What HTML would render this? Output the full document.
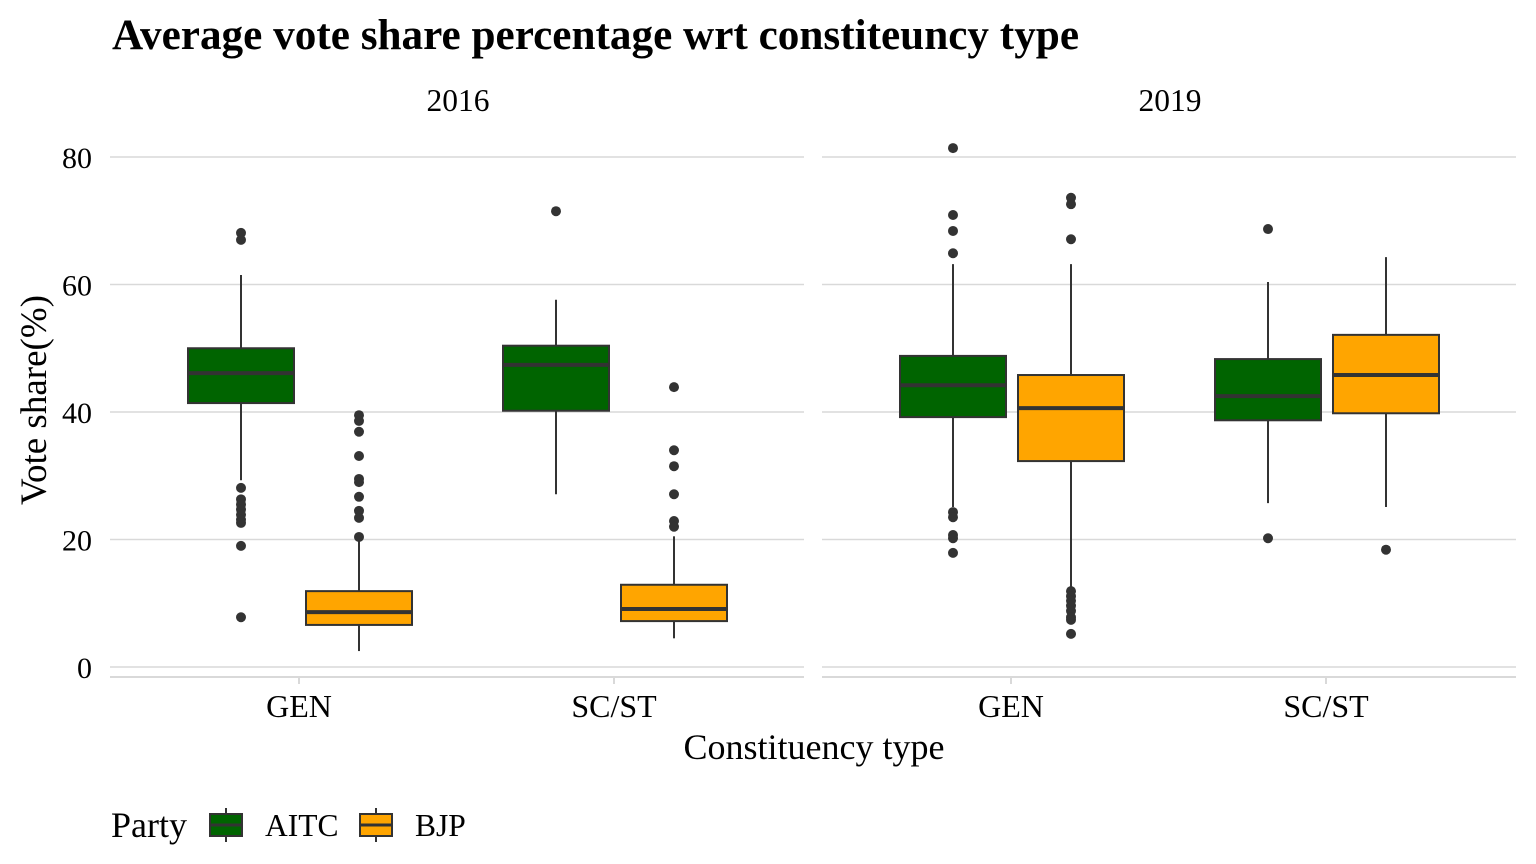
<!DOCTYPE html>
<html><head><meta charset="utf-8"><style>
html,body{margin:0;padding:0;background:#fff;}
svg{display:block;font-family:"Liberation Serif",serif;}
</style></head><body>
<svg id="chart" width="1536" height="864">
<text x="112" y="49" font-size="43" font-weight="bold" fill="#000" textLength="967" lengthAdjust="spacingAndGlyphs">Average vote share percentage wrt constiteuncy type</text>
<text x="458" y="111" font-size="31.5" text-anchor="middle">2016</text>
<text x="1170" y="111" font-size="31.5" text-anchor="middle">2019</text>
<text transform="translate(46,400) rotate(-90)" font-size="37" text-anchor="middle">Vote share(%)</text>
<text x="814" y="759" font-size="36" text-anchor="middle">Constituency type</text>
<g id="plot"></g>
<g>
<text x="111" y="837" font-size="36">Party</text>
<line x1="226" y1="808" x2="226" y2="842" stroke="#333" stroke-width="2"/>
<rect x="210" y="814" width="32" height="22" fill="#006400" stroke="#333" stroke-width="2"/>
<line x1="210" y1="825" x2="242" y2="825" stroke="#333" stroke-width="3"/>
<text x="265" y="836" font-size="31.5">AITC</text>
<line x1="376" y1="808" x2="376" y2="842" stroke="#333" stroke-width="2"/>
<rect x="360" y="814" width="32" height="22" fill="#FFA500" stroke="#333" stroke-width="2"/>
<line x1="360" y1="825" x2="392" y2="825" stroke="#333" stroke-width="3"/>
<text x="415" y="836" font-size="31.5">BJP</text>
</g>
</svg>
<script>
const years = ["2016","2019"];
const categories = ["GEN","SC/ST"];
const parties = ["AITC","BJP"];
const yTicks = [0,20,40,60,80];
// [lowerWhisker, Q1, median, Q3, upperWhisker] per year/category/party
const stats2016GenAitc = [29.3,41.4,46.1,50.0,61.5];
const stats2016GenBjp = [2.5,6.6,8.6,11.9,20.4];
const stats2016ScAitc = [27.1,40.2,47.4,50.4,57.6];
const stats2016ScBjp = [4.5,7.2,9.1,12.9,20.5];
const stats2019GenAitc = [25.1,39.2,44.2,48.8,63.2];
const stats2019GenBjp = [12.4,32.3,40.6,45.8,63.2];
const stats2019ScAitc = [25.7,38.7,42.5,48.3,60.4];
const stats2019ScBjp = [25.1,39.8,45.8,52.1,64.3];
const out2016GenAitc = [68.1,67.0,28.1,26.3,25.5,24.7,23.9,23.1,22.6,19.0,7.8];
const out2016GenBjp = [39.5,38.6,36.9,33.1,29.5,29.0,26.7,24.5,23.4,20.4];
const out2016ScAitc = [71.5];
const out2016ScBjp = [43.9,34.0,31.5,27.1,22.9,22.0];
const out2019GenAitc = [81.4,70.9,68.4,64.9,24.3,23.5,20.7,20.2,17.9];
const out2019GenBjp = [73.6,72.6,67.1,11.9,11.1,10.4,9.6,8.8,7.8,7.4,5.2];
const out2019ScAitc = [68.7,20.2];
const out2019ScBjp = [18.4];

const statsAll = [[[stats2016GenAitc,stats2016GenBjp],[stats2016ScAitc,stats2016ScBjp]],[[stats2019GenAitc,stats2019GenBjp],[stats2019ScAitc,stats2019ScBjp]]];
const outAll = [[[out2016GenAitc,out2016GenBjp],[out2016ScAitc,out2016ScBjp]],[[out2019GenAitc,out2019GenBjp],[out2019ScAitc,out2019ScBjp]]];
const colors = ["#006400","#FFA500"];
const panelX = [110,822], panelW = 694;
const y = v => 667 - v*6.375;
const xCat = (p,c) => panelX[p] + 189 + c*315;
const NS = "http://www.w3.org/2000/svg";
const g = document.getElementById("plot");
function mk(tag, attrs){const e=document.createElementNS(NS,tag);for(const k in attrs)e.setAttribute(k,attrs[k]);g.appendChild(e);return e;}
yTicks.forEach(t=>{
  const lab=mk("text",{x:92,y:y(t)+11,"font-size":30,"text-anchor":"end",fill:"#000"});
  lab.textContent=t;
  
  
});
for(let p=0;p<2;p++){
  yTicks.forEach(t=>{
    const l=mk("line",{x1:panelX[p],x2:panelX[p]+panelW,y1:y(t),y2:y(t),stroke:"#d9d9d9","stroke-width":1.5});
    
    
  });
  const ax=mk("line",{x1:panelX[p],x2:panelX[p]+panelW,y1:677,y2:677,stroke:"#d9d9d9","stroke-width":2});
  
  
  categories.forEach((c,ci)=>{
    const cx=xCat(p,ci);
    mk("line",{x1:cx,x2:cx,y1:677,y2:684,stroke:"#d9d9d9","stroke-width":2});
    const lab=mk("text",{x:cx,y:717,"font-size":32,"text-anchor":"middle"});
    lab.textContent=c;
    
    
    parties.forEach((pt,pi)=>{
      const s=statsAll[p][ci][pi], bx=cx+(pi===0?-58:60), hw=53;
      const w=mk("line",{x1:bx,x2:bx,y1:y(s[0]),y2:y(s[4]),stroke:"#333","stroke-width":2});
      
      
      const r=mk("rect",{x:bx-hw,width:hw*2,y:y(s[3]),height:y(s[1])-y(s[3]),fill:colors[pi],stroke:"#333","stroke-width":2});
      
      
      const m=mk("line",{x1:bx-hw,x2:bx+hw,y1:y(s[2]),y2:y(s[2]),stroke:"#333","stroke-width":4});
      
      
      outAll[p][ci][pi].forEach(v=>{
        const o=mk("circle",{cx:bx,cy:y(v),r:5,fill:"#333"});
        
        
      });
    });
  });
}
</script>
</body></html>
